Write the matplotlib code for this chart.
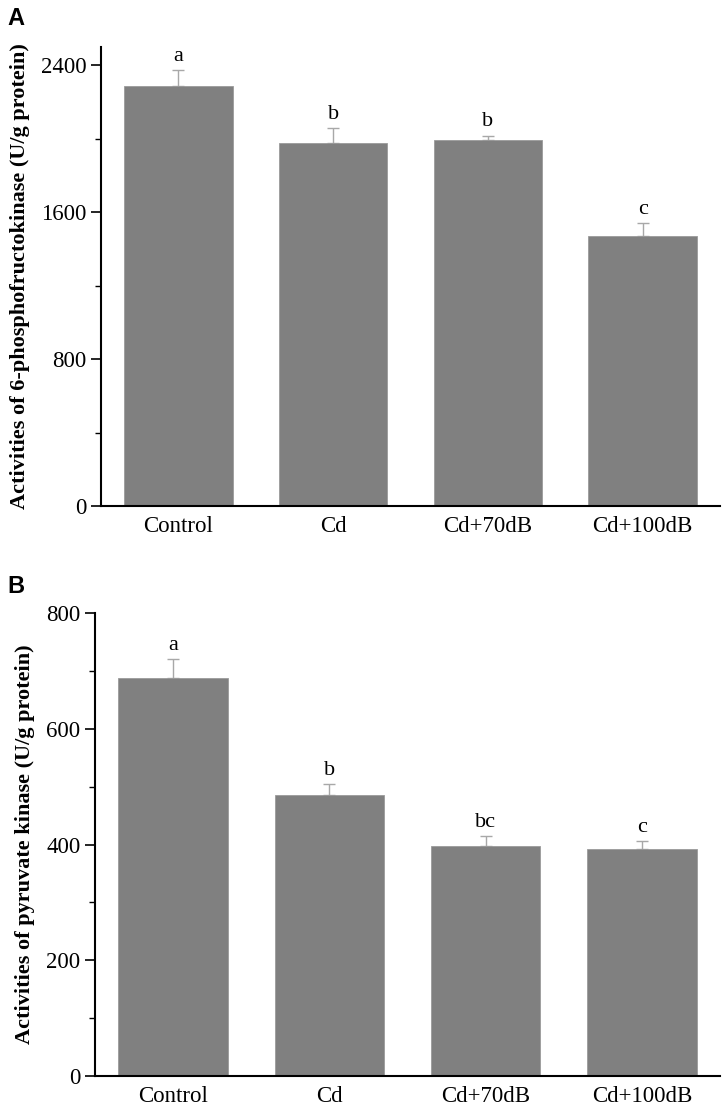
import numpy as np
import matplotlib
matplotlib.use('Agg')
import matplotlib.pyplot as plt
from matplotlib.ticker import MultipleLocator

plt.rcParams['font.family'] = ['Liberation Serif', 'DejaVu Serif']

# dados
grupos = ['Control', 'Cd', 'Cd+70dB', 'Cd+100dB']

pfk = [2289, 1975, 1995, 1473]
pfk_err = [85, 82, 22, 67]
pfk_letras = ['a', 'b', 'b', 'c']

pk = [687, 485, 398, 393]
pk_err = [33, 20, 16, 13]
pk_letras = ['a', 'b', 'bc', 'c']

fig = plt.figure(figsize=(7.24, 11.10), dpi=100)

ax1 = fig.add_axes([0.1395, 0.5441, 0.855, 0.4136])
ax2 = fig.add_axes([0.1312, 0.0306, 0.8633, 0.4171])


def painel(ax, vals, errs, letras, ylim, maior, menor, ylabel):
    x = np.arange(len(grupos))
    ax.bar(x, vals, width=0.7, color='#808080', edgecolor='#9a9a9a', linewidth=0.6, zorder=2)
    ax.errorbar(x, vals, yerr=[[0] * len(vals), errs], fmt='none', ecolor='#a8a8a8',
                elinewidth=1.0, capsize=4, capthick=1.0, zorder=1)
    for xi, v, e, l in zip(x, vals, errs, letras):
        ax.annotate(l, (xi, v + e), xytext=(0, 3), textcoords='offset points',
                    ha='center', va='bottom', fontsize=16)
    ax.set_xlim(-0.5, 3.5)
    ax.set_ylim(*ylim)
    ax.set_xticks(x)
    ax.set_xticklabels(grupos, fontsize=16.5)
    ax.yaxis.set_major_locator(MultipleLocator(maior))
    ax.yaxis.set_minor_locator(MultipleLocator(menor))
    ax.tick_params(axis='y', which='major', length=7, width=1.2, labelsize=16.5, direction='out')
    ax.tick_params(axis='y', which='minor', length=4, width=1.0, direction='out')
    ax.tick_params(axis='x', length=0, pad=7)
    ax.spines['top'].set_visible(False)
    ax.spines['right'].set_visible(False)
    ax.spines['left'].set_linewidth(1.5)
    ax.spines['bottom'].set_linewidth(1.5)
    ax.set_ylabel(ylabel, fontsize=16, fontweight='bold', labelpad=8)


painel(ax1, pfk, pfk_err, pfk_letras, (0, 2500), 800, 400,
       'Activities of 6-phosphofructokinase (U/g protein)')
painel(ax2, pk, pk_err, pk_letras, (0, 800), 200, 100,
       'Activities of pyruvate kinase (U/g protein)')

fig.text(0.010, 0.994, 'A', fontsize=17, fontweight='bold', family='Liberation Sans', va='top')
fig.text(0.010, 0.482, 'B', fontsize=17, fontweight='bold', family='Liberation Sans', va='top')

fig.savefig('out.png', dpi=100)
